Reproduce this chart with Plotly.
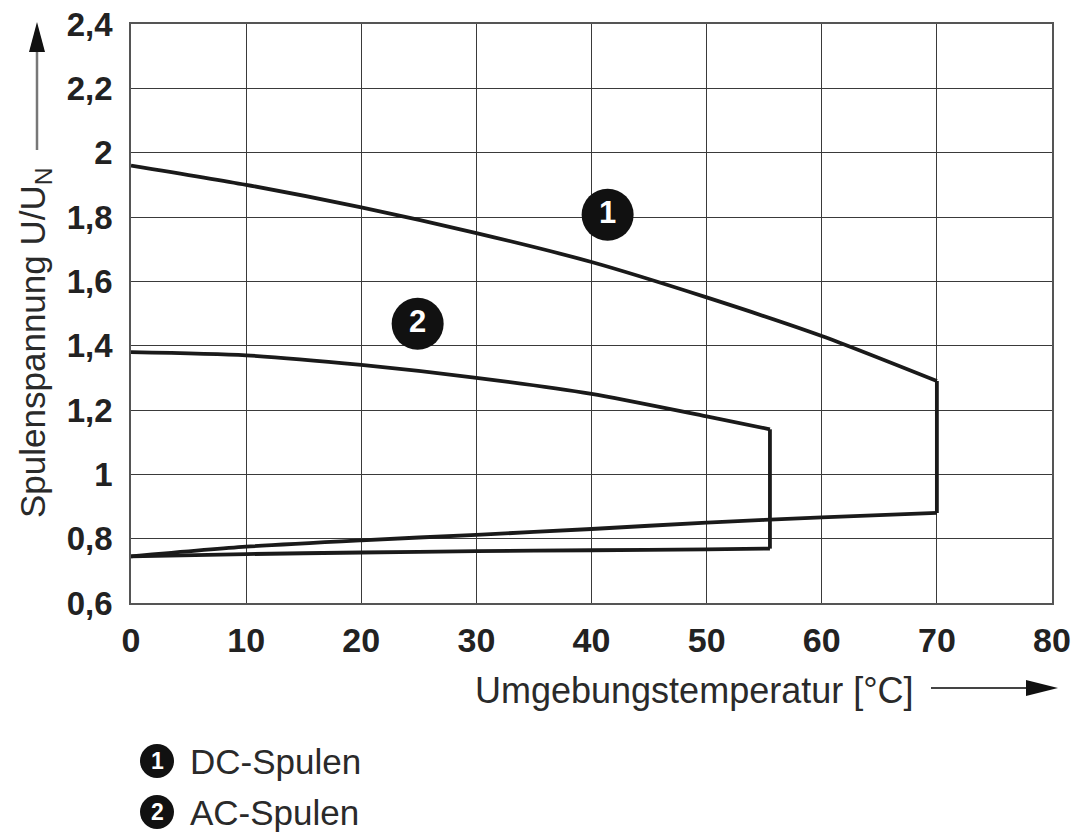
import plotly.graph_objects as go

# ---------------- data ----------------
x_ticks = [0, 10, 20, 30, 40, 50, 60, 70, 80]
x_tick_labels = ["0", "10", "20", "30", "40", "50", "60", "70", "80"]
y_ticks = [0.6, 0.8, 1.0, 1.2, 1.4, 1.6, 1.8, 2.0, 2.2, 2.4]
y_tick_labels = ["0,6", "0,8", "1", "1,2", "1,4", "1,6", "1,8", "2", "2,2", "2,4"]

dc_temp = [0, 10, 20, 30, 40, 50, 60, 70]
dc_upper = [1.96, 1.90, 1.83, 1.75, 1.66, 1.55, 1.43, 1.29]
dc_lower = [0.745, 0.775, 0.795, 0.812, 0.830, 0.850, 0.866, 0.880]

ac_temp = [0, 10, 20, 30, 40, 50, 55.5]
ac_upper = [1.38, 1.37, 1.34, 1.30, 1.25, 1.18, 1.14]
ac_lower = [0.745, 0.752, 0.757, 0.761, 0.764, 0.767, 0.769]

curve_numbers = ["1", "2"]
curve_names = ["DC-Spulen", "AC-Spulen"]
label_x = [41.4, 24.9]
label_y = [1.807, 1.468]

x_title = "Umgebungstemperatur [°C]"
y_title = "Spulenspannung U/U<sub>N</sub>"

# ---------------- layout geometry (pixel coords) ----------------
W, H = 1075, 832
L, R, T, B = 131, 1052, 24, 603
PW, PH = R - L, B - T
FONT = "Liberation Sans, Arial, Helvetica, sans-serif"
INK = "#1a1a1a"


def px(x):
    return (x - L) / PW


def py(y):
    return (B - y) / PH


fig = go.Figure()


def add_envelope(temp, upper, lower):
    curve = dict(color=INK, width=3.8, shape="spline", smoothing=0.7)
    fig.add_trace(go.Scatter(x=temp, y=upper, mode="lines", line=curve,
                             showlegend=False, hoverinfo="skip"))
    fig.add_trace(go.Scatter(x=[temp[-1], temp[-1]], y=[upper[-1], lower[-1]],
                             mode="lines", line=dict(color=INK, width=3.8),
                             showlegend=False, hoverinfo="skip"))
    fig.add_trace(go.Scatter(x=temp, y=lower, mode="lines", line=curve,
                             showlegend=False, hoverinfo="skip"))


add_envelope(dc_temp, dc_upper, dc_lower)
add_envelope(ac_temp, ac_upper, ac_lower)

fig.add_trace(go.Scatter(
    x=label_x, y=label_y, mode="markers+text",
    text=curve_numbers, textposition="middle center",
    textfont=dict(family=FONT, size=31, color="white", weight="bold"),
    marker=dict(size=52, color="#111111", line=dict(width=0)),
    showlegend=False, hoverinfo="skip", cliponaxis=False))

shapes = []
annotations = []

# y axis title with arrow
annotations.append(dict(
    xref="paper", yref="paper", x=px(35), y=py(343),
    text=y_title, textangle=-90, showarrow=False,
    font=dict(family=FONT, size=35, color="#2a2a2a"),
    xanchor="center", yanchor="middle"))
shapes.append(dict(type="line", xref="paper", yref="paper",
                   x0=px(37), x1=px(37), y0=py(150), y1=py(48),
                   line=dict(color="#777777", width=2.5)))
shapes.append(dict(type="path", xref="paper", yref="paper",
                   path=f"M {px(29)} {py(52)} L {px(45)} {py(52)} L {px(37)} {py(22)} Z",
                   fillcolor="#111111", line=dict(width=0)))

# x axis title with arrow
annotations.append(dict(
    xref="paper", yref="paper", x=px(916), y=py(690),
    text=x_title, showarrow=False,
    font=dict(family=FONT, size=36, color="#2a2a2a"),
    xanchor="right", yanchor="middle"))
shapes.append(dict(type="line", xref="paper", yref="paper",
                   x0=px(931), x1=px(1030), y0=py(688), y1=py(688),
                   line=dict(color="#444444", width=2.2)))
shapes.append(dict(type="path", xref="paper", yref="paper",
                   path=f"M {px(1026)} {py(680)} L {px(1026)} {py(696)} L {px(1058)} {py(688)} Z",
                   fillcolor="#111111", line=dict(width=0)))

# legend below chart
leg_y = [761, 812]
for i, (num, name) in enumerate(zip(curve_numbers, curve_names)):
    cy = leg_y[i]
    shapes.append(dict(type="circle", xref="paper", yref="paper",
                       x0=px(140), x1=px(174), y0=py(cy + 17), y1=py(cy - 17),
                       fillcolor="#111111", line=dict(width=0)))
    annotations.append(dict(
        xref="paper", yref="paper", x=px(157), y=py(cy),
        text=f"<b>{num}</b>", showarrow=False,
        font=dict(family=FONT, size=23, color="white"),
        xanchor="center", yanchor="middle"))
    annotations.append(dict(
        xref="paper", yref="paper", x=px(188), y=py(cy),
        text=name, showarrow=False,
        font=dict(family=FONT, size=35, color="#2a2a2a"),
        xanchor="left", yanchor="middle"))

fig.update_layout(
    width=W, height=H,
    margin=dict(l=L, r=W - R, t=T, b=H - B, autoexpand=False),
    paper_bgcolor="white", plot_bgcolor="white",
    font=dict(family=FONT, color=INK),
    shapes=shapes, annotations=annotations,
    showlegend=False,
)

fig.update_xaxes(
    range=[0, 80], tickvals=x_ticks, ticktext=x_tick_labels,
    tickfont=dict(family=FONT, size=34, color="#222222", weight="bold"),
    showgrid=True, gridcolor="#3a3a3a", gridwidth=1.3,
    showline=True, linecolor="#555555", linewidth=1.6, mirror=True,
    ticks="outside", ticklen=0, ticklabelstandoff=6, zeroline=False)

fig.update_yaxes(
    range=[0.6, 2.4], tickvals=y_ticks, ticktext=y_tick_labels,
    tickfont=dict(family=FONT, size=33, color="#222222", weight="bold"),
    showgrid=True, gridcolor="#3a3a3a", gridwidth=1.3,
    showline=True, linecolor="#555555", linewidth=1.6, mirror=True,
    ticks="outside", ticklen=0, ticklabelstandoff=10, zeroline=False)

fig.write_html(
    "out.html",
    config={"displayModeBar": False},
    post_script="document.body.style.margin='0';document.body.style.overflow='hidden';",
)
